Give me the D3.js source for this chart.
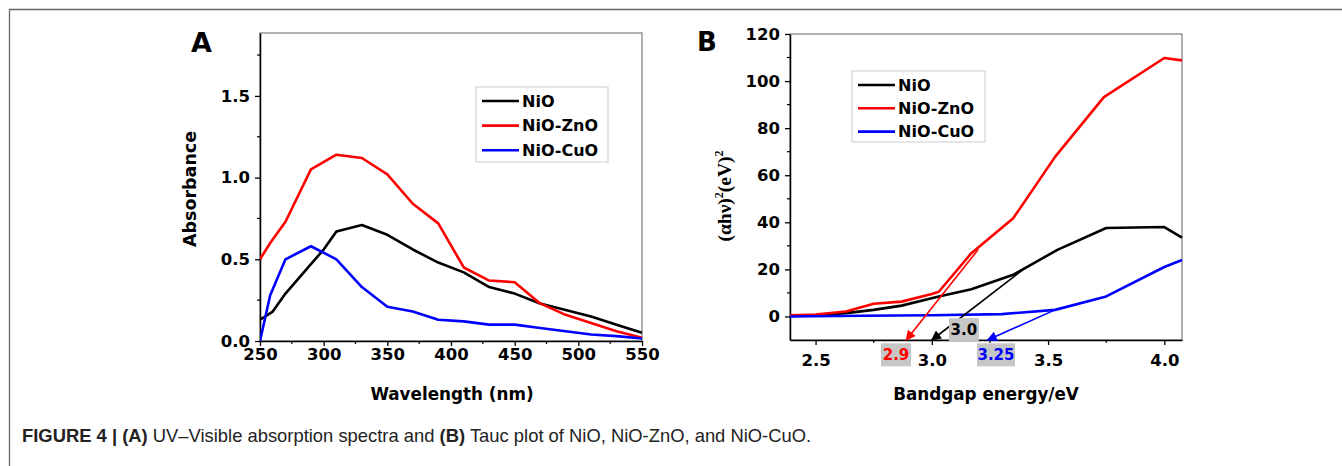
<!DOCTYPE html>
<html lang="en">
<head>
<meta charset="UTF-8">
<title>UV-Vis and Tauc plot</title>
<style>
  body { margin: 0; background: #fff; }
  svg text { font-family: "DejaVu Sans", sans-serif; font-weight: bold; }
  .domain { stroke: #000; stroke-width: 1.5; }
  .tick line { stroke: #000; stroke-width: 1.3; }
  .tick text { font-size: 16.5px; fill: #000; }
  .series { fill: none; stroke-width: 2.6; stroke-linejoin: round; }
</style>
</head>
<body>
<script src="https://d3js.org/d3.v7.min.js"></script>
<script>
// Panel A: UV-Vis absorption (wavelength nm -> absorbance)
const seriesNames = ['NiO', 'NiO-ZnO', 'NiO-CuO'];
const seriesColors = ['#000000', '#ff0000', '#0000ff'];

const nioWl = [250, 260, 270, 280, 290, 300, 310, 330, 350, 370, 390, 410, 430, 450, 470, 490, 510, 530, 550];
const nioAbs = [0.13, 0.18, 0.29, 0.38, 0.47, 0.56, 0.67, 0.71, 0.65, 0.56, 0.48, 0.42, 0.33, 0.29, 0.23, 0.19, 0.15, 0.10, 0.05];
const znoWl = [250, 258, 270, 290, 310, 330, 350, 370, 390, 410, 430, 450, 470, 490, 510, 530, 550];
const znoAbs = [0.50, 0.60, 0.73, 1.05, 1.14, 1.12, 1.02, 0.84, 0.72, 0.45, 0.37, 0.36, 0.23, 0.16, 0.11, 0.06, 0.02];
const cuoWl = [250, 258, 270, 290, 310, 330, 350, 370, 390, 410, 430, 450, 470, 490, 510, 530, 550];
const cuoAbs = [0.0, 0.28, 0.50, 0.58, 0.50, 0.33, 0.21, 0.18, 0.13, 0.12, 0.10, 0.10, 0.08, 0.06, 0.04, 0.03, 0.015];
const ticksA_x = [250, 300, 350, 400, 450, 500, 550];
const ticksA_y = [0.0, 0.5, 1.0, 1.5];

// Panel B: Tauc plot (energy eV -> (ahv)^2)
const nioE = [2.39, 2.5, 2.63, 2.75, 2.87, 3.03, 3.17, 3.35, 3.54, 3.75, 4.0, 4.076];
const nioT = [0.2, 0.5, 1.4, 2.8, 4.6, 8.5, 11.6, 17.7, 28.3, 37.6, 38.0, 33.5];
const znoE = [2.39, 2.5, 2.63, 2.75, 2.87, 3.0, 3.03, 3.17, 3.35, 3.53, 3.74, 4.0, 4.076];
const znoT = [0.5, 0.8, 2.1, 5.4, 6.3, 9.5, 10.5, 26.9, 41.7, 67.8, 93.2, 109.8, 108.8];
const cuoE = [2.39, 2.7, 3.0, 3.3, 3.53, 3.75, 4.0, 4.076];
const cuoT = [0.0, 0.3, 0.5, 1.0, 2.8, 8.5, 21.0, 24.0];
const ticksB_x = [2.5, 3.0, 3.5, 4.0];
const ticksB_y = [0, 20, 40, 60, 80, 100, 120];

// extrapolation lines: start point, arrow tip
const tangentFrom = [[3.20, 28.5], [3.40, 20.5], [3.53, 2.8]];
const tangentTo = [[2.89, -10], [3.0, -10], [3.24, -10]];
// bandgap value labels: text, centre energy, centre value
const gapText = ['2.9', '3.0', '3.25'];
const gapAt = [[2.846, -16.3], [3.138, -5.6], [3.276, -16.3]];

const caption = ['FIGURE 4 | (A)', ' UV\u2013Visible absorption spectra and ', '(B)', ' Tauc plot of NiO, NiO-ZnO, and NiO-CuO.'];
const captionBold = [true, false, true, false];

const W = 1342, H = 466;
const svg = d3.select('body').append('svg').attr('width', W).attr('height', H);

// outer figure frame (top and left only visible)
svg.append('path').attr('d', 'M9.5,466V9.5H1342').attr('fill', 'none').attr('stroke', '#666').attr('stroke-width', 1.3);

function zip(xs, ys) { return xs.map((x, i) => [x, ys[i]]); }

function panel(opt) {
  const x = d3.scaleLinear().domain(opt.xDomain).range([opt.left, opt.right]);
  const y = d3.scaleLinear().domain(opt.yDomain).range([opt.bottom, opt.top]);
  const g = svg.append('g');

  // frame (top/right grey)
  g.append('rect').attr('x', opt.left).attr('y', opt.top)
    .attr('width', opt.right - opt.left).attr('height', opt.bottom - opt.top)
    .attr('fill', 'none').attr('stroke', '#888').attr('stroke-width', 1.3);

  const clipId = 'clip' + opt.id;
  g.append('clipPath').attr('id', clipId).append('rect')
    .attr('x', opt.left).attr('y', opt.top - 2).attr('width', opt.right - opt.left + 1).attr('height', opt.bottom - opt.top + 2);

  // minor ticks
  const minorX = d3.range(opt.xMinor[0], opt.xMinor[1] + 1e-9, opt.xMinor[2]);
  g.selectAll('.mx').data(minorX).enter().append('line')
    .attr('x1', d => x(d)).attr('x2', d => x(d)).attr('y1', opt.bottom).attr('y2', opt.bottom + 3)
    .attr('stroke', '#000').attr('stroke-width', 1.2);
  const minorY = d3.range(opt.yMinor[0], opt.yMinor[1] + 1e-9, opt.yMinor[2]);
  g.selectAll('.my').data(minorY).enter().append('line')
    .attr('y1', d => y(d)).attr('y2', d => y(d)).attr('x1', opt.left).attr('x2', opt.left - 3)
    .attr('stroke', '#000').attr('stroke-width', 1.2);

  g.append('g').attr('transform', `translate(0,${opt.bottom})`)
    .call(d3.axisBottom(x).tickValues(opt.xTicks).tickFormat(opt.xFormat).tickSize(5).tickSizeOuter(0).tickPadding(opt.xPad));
  g.append('g').attr('transform', `translate(${opt.left},0)`)
    .call(d3.axisLeft(y).tickValues(opt.yTicks).tickFormat(opt.yFormat).tickSize(5).tickSizeOuter(0).tickPadding(5));

  const line = d3.line().x(d => x(d[0])).y(d => y(d[1]));
  const plot = g.append('g').attr('clip-path', `url(#${clipId})`);
  opt.series.forEach((s, i) => {
    plot.append('path').datum(s).attr('class', 'series').attr('stroke', seriesColors[i]).attr('d', line);
  });
  return { x, y, g, plot };
}

// ---------- Panel A ----------
const A = panel({
  id: 'A', left: 260, right: 642, top: 33, bottom: 341,
  xDomain: [250, 550], yDomain: [0, 1.885],
  xTicks: ticksA_x, yTicks: ticksA_y, xPad: 2,
  xFormat: d3.format('d'), yFormat: d3.format('.1f'),
  xMinor: [275, 525, 50], yMinor: [0.25, 1.75, 0.5],
  series: [zip(nioWl, nioAbs), zip(znoWl, znoAbs), zip(cuoWl, cuoAbs)]
});

// ---------- Panel B ----------
const B = panel({
  id: 'B', left: 790, right: 1182, top: 34, bottom: 340,
  xDomain: [2.39, 4.076], yDomain: [-10, 120],
  xTicks: ticksB_x, yTicks: ticksB_y, xPad: 9,
  xFormat: d3.format('.1f'), yFormat: d3.format('d'),
  xMinor: [2.75, 3.75, 0.5], yMinor: [10, 110, 20],
  series: [zip(nioE, nioT), zip(znoE, znoT), zip(cuoE, cuoT)]
});

// arrow markers
const tangentColors = ['#ff0000', '#000000', '#0000ff'];
const defs = svg.append('defs');
tangentColors.forEach((c, i) => {
  defs.append('marker').attr('id', 'arr' + i).attr('viewBox', '0 0 10 10')
    .attr('refX', 9).attr('refY', 5)
    .attr('markerUnits', 'userSpaceOnUse').attr('orient', 'auto')
    .attr('markerWidth', 13).attr('markerHeight', 10)
    .append('path').attr('d', 'M0,0L10,5L0,10z').attr('fill', c);
});
tangentFrom.forEach((f, i) => {
  const t = tangentTo[i];
  B.g.append('line')
    .attr('x1', B.x(f[0])).attr('y1', B.y(f[1])).attr('x2', B.x(t[0])).attr('y2', B.y(t[1]))
    .attr('stroke', tangentColors[i]).attr('stroke-width', 1.6)
    .attr('marker-end', `url(#arr${i})`);
});

// bandgap labels with grey boxes
gapText.forEach((t, i) => {
  const cx = B.x(gapAt[i][0]), cy = B.y(gapAt[i][1]);
  const w = t.length > 3 ? 38 : 30;
  B.g.append('rect').attr('x', cx - w / 2).attr('y', cy - 11.5).attr('width', w).attr('height', 23)
    .attr('fill', '#c6c6c6');
  B.g.append('text').attr('x', cx).attr('y', cy).attr('dy', '0.36em').attr('text-anchor', 'middle')
    .attr('font-size', 15).attr('fill', tangentColors[i]).text(t);
});

// legends
function legend(x0, y0, w, h, rowY, rowGap) {
  const g = svg.append('g');
  g.append('rect').attr('x', x0).attr('y', y0).attr('width', w).attr('height', h)
    .attr('fill', '#fff').attr('stroke', '#ccc').attr('stroke-width', 1);
  seriesNames.forEach((n, i) => {
    const yy = rowY + i * rowGap;
    g.append('line').attr('x1', x0 + 6).attr('x2', x0 + 43).attr('y1', yy).attr('y2', yy)
      .attr('stroke', seriesColors[i]).attr('stroke-width', 2.6);
    g.append('text').attr('x', x0 + 46).attr('y', yy).attr('dy', '0.36em')
      .attr('font-size', 16).attr('fill', '#000').text(n);
  });
}
legend(476, 87, 132, 75, 101, 24.6);
legend(852, 71, 133, 71, 85, 23.3);

// panel letters
svg.append('text').attr('x', 191).attr('y', 51.5).attr('font-size', 27).text('A');
svg.append('text').attr('x', 697).attr('y', 51).attr('font-size', 26).text('B');

// axis titles
svg.append('text').attr('x', 452).attr('y', 400).attr('text-anchor', 'middle').attr('font-size', 16.8)
  .text('Wavelength (nm)');
svg.append('text').attr('transform', 'translate(196,189) rotate(-90)').attr('text-anchor', 'middle')
  .attr('font-size', 17.5).text('Absorbance');
svg.append('text').attr('x', 986).attr('y', 400).attr('text-anchor', 'middle').attr('font-size', 16.8)
  .text('Bandgap energy/eV');

const yt = svg.append('text').attr('transform', 'translate(731,196) rotate(-90)').attr('text-anchor', 'middle')
  .style('font-family', '"Liberation Serif", "Times New Roman", serif').attr('font-size', 19.5);
yt.append('tspan').text('(\u03b1h\u03bd)');
yt.append('tspan').attr('font-size', 12).attr('dy', -8).text('2');
yt.append('tspan').attr('dy', 8).text('(eV)');
yt.append('tspan').attr('font-size', 12).attr('dy', -8).text('2');

// caption, condensed to the reference width
const cap = svg.append('text').attr('font-size', 17.5).attr('fill', '#222')
  .style('font-family', '"Liberation Sans", Arial, sans-serif').style('font-weight', 'normal');
caption.forEach((p, i) => {
  cap.append('tspan').style('font-weight', captionBold[i] ? 'bold' : 'normal').text(p);
});
const capLen = cap.node().getComputedTextLength();
cap.attr('transform', `translate(22,442) scale(${790 / capLen},1)`);
</script>
</body>
</html>
